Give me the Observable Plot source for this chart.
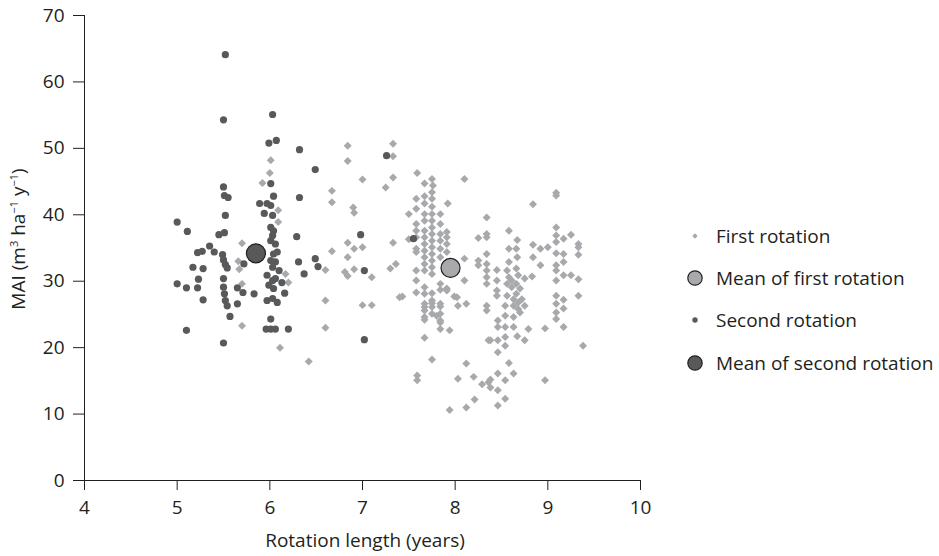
<!DOCTYPE html>
<html>
<head>
<meta charset="utf-8">
<script src="https://cdn.jsdelivr.net/npm/d3@7"></script>
<script src="https://cdn.jsdelivr.net/npm/@observablehq/plot@0.6"></script>
<style>
  html, body { margin: 0; padding: 0; background: #fff; }
  #chart { width: 939px; height: 556px; }
</style>
</head>
<body>
<div id="chart"></div>
<script>
// Rotation length (years) and mean annual increment (MAI) per stand.
const firstX = [
  6.01, 6.00, 5.92, 6.09, 6.09, 5.70, 5.66, 5.67, 5.70, 6.17, 6.20, 5.70, 6.11, 6.42,
  6.84, 6.84, 7.00, 6.67, 6.67, 6.90, 6.91, 7.33, 7.33, 7.33, 7.25, 6.84, 6.91, 7.00, 6.84, 6.67, 7.33,
  6.60, 6.81, 6.84, 6.91, 7.10, 7.30, 7.36, 6.60, 7.00, 7.10, 6.60, 7.40,
  7.50, 7.50, 7.59, 7.67, 7.75, 7.76, 7.75, 8.10, 7.92,
  7.58, 7.58, 7.58, 7.58, 7.58, 7.58, 7.58, 7.58, 7.58, 7.58,
  7.67, 7.67, 7.67, 7.67, 7.67, 7.67, 7.67, 7.67, 7.67, 7.67, 7.67, 7.67, 7.67, 7.67, 7.67, 7.67, 7.67, 7.67, 7.67,
  7.75, 7.75, 7.75, 7.75, 7.75, 7.75, 7.75, 7.75, 7.75, 7.75, 7.75, 7.75, 7.75, 7.75, 7.75, 7.75, 7.75,
  7.84, 7.84, 7.84, 7.84, 7.84, 7.84, 7.84, 7.84, 7.84, 7.84, 7.84, 7.84, 7.84, 7.84,
  7.91, 7.91, 7.91, 7.91, 7.91, 7.91,
  7.94, 7.75, 7.59, 7.59, 8.03, 8.12, 8.20, 8.29, 8.21, 8.12, 7.94, 8.10, 8.10, 8.02, 8.12, 8.03, 7.99, 7.80, 7.43,
  8.34, 8.34, 8.34, 8.25, 8.25, 8.25, 8.34, 8.34, 8.34, 8.34, 8.34, 8.34, 8.34, 8.36, 8.36,
  8.45, 8.45, 8.45, 8.45,
  8.58, 8.67, 8.58, 8.66, 8.67, 8.58, 8.56, 8.58, 8.56, 8.61, 8.56, 8.66, 8.70, 8.54, 8.63, 8.68, 8.68, 8.70,
  8.63, 8.54, 8.46, 8.46, 8.54, 8.63, 8.75, 8.83, 8.79, 8.67, 8.75, 8.38, 8.46, 8.54, 8.54, 8.46, 8.97,
  8.58, 8.46, 8.54, 8.63, 8.38, 8.38, 8.46, 8.54, 8.46, 8.97,
  8.61, 8.66, 8.72, 8.63, 8.68, 8.75, 8.66,
  8.84, 9.09, 9.09, 9.09, 9.09, 9.09, 9.17, 9.25, 9.33, 9.33, 8.84, 8.92, 9.00, 9.09, 9.17, 9.17, 9.33,
  8.84, 8.92, 9.09, 9.09, 9.17, 9.25, 9.33, 9.33, 9.38, 9.09, 9.17, 9.09, 9.17, 9.09, 9.09, 9.17, 9.09
];
const firstMAI = [
  48.2, 46.3, 44.8, 40.7, 38.9, 35.7, 33.0, 31.8, 29.6, 31.1, 29.8, 23.3, 20.0, 17.9,
  50.4, 48.1, 45.3, 43.6, 41.9, 41.1, 40.3, 50.7, 48.8, 45.6, 44.1, 35.8, 34.9, 35.1, 33.6, 34.5, 35.8,
  31.7, 31.4, 30.8, 31.8, 30.6, 31.9, 32.6, 27.1, 26.4, 26.4, 23.0, 27.6,
  40.1, 36.3, 46.3, 44.7, 45.4, 44.4, 43.4, 45.4, 41.7,
  42.4, 40.9, 38.6, 37.6, 36.6, 34.9, 34.4, 31.6, 30.1, 28.3,
  42.8, 41.7, 40.1, 39.1, 37.6, 36.6, 35.6, 34.6, 33.6, 32.6, 31.6, 29.1, 28.1, 26.6, 26.1, 25.6, 24.6, 24.2, 21.5,
  42.4, 41.2, 40.1, 39.1, 38.1, 37.1, 36.1, 35.1, 34.1, 33.1, 32.1, 31.1, 28.2, 27.1, 26.7, 26.1, 25.1,
  40.1, 38.6, 37.1, 36.1, 34.9, 33.6, 29.6, 28.7, 26.6, 26.2, 25.1, 24.1, 23.8, 22.8,
  37.4, 36.6, 35.6, 34.4, 28.9, 28.6,
  22.6, 18.2, 15.8, 15.1, 15.3, 17.6, 15.6, 14.5, 12.2, 11.0, 10.6, 33.4, 30.1, 27.6, 26.6, 26.3, 27.7, 24.8, 27.7,
  39.6, 37.1, 36.6, 36.5, 33.1, 32.4, 34.1, 32.6, 31.6, 30.6, 29.6, 26.3, 25.6, 21.1, 14.8,
  31.7, 30.1, 28.6, 27.8,
  37.6, 36.2, 34.9, 34.9, 33.6, 32.9, 31.6, 30.6, 29.6, 29.1, 27.8, 28.1, 28.9, 26.3, 26.3, 26.8, 25.8, 25.3,
  24.6, 24.8, 24.1, 23.1, 23.1, 23.1, 30.4, 30.7, 22.8, 21.7, 21.1, 21.1, 21.1, 21.6, 20.3, 19.3, 22.9,
  17.7, 16.1, 15.1, 16.1, 15.2, 14.0, 13.6, 12.3, 11.3, 15.1,
  30.1, 29.6, 27.3, 27.3, 30.9, 26.3, 31.9,
  41.6, 43.3, 42.9, 38.1, 36.9, 35.9, 36.4, 37.0, 35.6, 35.1, 35.5, 34.9, 35.1, 34.2, 34.1, 32.9, 34.0,
  33.6, 32.4, 31.6, 30.1, 30.9, 30.9, 30.3, 27.8, 20.3, 27.8, 27.2, 26.6, 25.9, 25.3, 24.3, 23.1, 32.4
];
const secondX = [
  5.52, 5.50, 6.03, 5.99, 6.07, 6.32, 6.49, 5.50, 6.01, 5.51, 5.55, 6.04, 6.32, 5.89, 5.97, 6.01, 5.52, 5.94, 6.03,
  5.00, 5.11, 5.45, 5.51, 5.35, 5.40, 5.22, 5.27, 5.49, 5.50, 5.52, 5.54, 5.17, 5.28, 5.72, 5.23, 5.22, 5.10, 5.00,
  5.50, 5.50, 5.51, 5.52, 5.54, 5.65, 5.71, 5.65, 5.83, 5.28, 5.57, 5.10, 5.50,
  6.01, 6.04, 6.03, 6.01, 6.06, 6.04, 6.08, 6.01, 6.06, 6.03, 6.10, 5.97, 6.03, 6.06, 5.99, 6.04, 5.97, 6.03, 6.08,
  6.01, 5.96, 6.01, 6.06, 6.13, 6.16, 6.29, 6.31, 6.20, 6.37, 6.49, 6.52, 7.26, 6.98, 7.02, 7.02, 7.55
];
const secondMAI = [
  64.1, 54.3, 55.1, 50.8, 51.2, 49.8, 46.8, 44.2, 44.7, 42.9, 42.6, 42.8, 42.6, 41.7, 41.7, 41.4, 39.9, 40.2, 39.9,
  38.9, 37.5, 37.0, 37.3, 35.3, 34.4, 34.3, 34.5, 34.0, 33.2, 32.5, 32.0, 32.1, 31.9, 32.6, 30.3, 29.0, 29.0, 29.6,
  30.4, 29.1, 28.1, 27.1, 26.3, 29.0, 28.3, 26.6, 28.1, 27.2, 24.7, 22.6, 20.7,
  38.1, 37.6, 36.9, 36.1, 35.6, 34.1, 34.4, 33.1, 32.9, 32.1, 31.6, 30.9, 30.1, 30.4, 29.4, 28.9, 27.1, 27.4, 26.8,
  24.3, 22.8, 22.8, 22.8, 29.8, 28.2, 36.7, 32.9, 22.8, 31.1, 33.4, 32.2, 48.9, 37.0, 31.6, 21.2, 36.4
];
// Means of each rotation
const meanLabels = ["Mean of first rotation", "Mean of second rotation"];
const meanX = [7.95, 5.85];
const meanMAI = [32.0, 34.2];

const xTicks = [4, 5, 6, 7, 8, 9, 10];
const yTicks = [0, 10, 20, 30, 40, 50, 60, 70];
const legendLabels = ["First rotation", "Mean of first rotation", "Second rotation", "Mean of second rotation"];

const first = firstX.map((x, i) => ({x, y: firstMAI[i]}));
const second = secondX.map((x, i) => ({x, y: secondMAI[i]}));
const means = meanX.map((x, i) => ({x, y: meanMAI[i], label: meanLabels[i]}));

const ink = "#231f20";
const light = "#a7a9ac";
const dark = "#58595b";
const font = "'Open Sans', sans-serif";
const fs = 19;

const W = 939, H = 556;
const svg = Plot.plot({
  width: W,
  height: H,
  marginLeft: 84,
  marginRight: 299,
  marginTop: 15,
  marginBottom: 76,
  style: {fontFamily: font, fontSize: fs + "px", color: ink, background: "#fff", overflow: "visible"},
  x: {domain: [4, 10]},
  y: {domain: [0, 70]},
  marks: [
    Plot.axisX({ticks: xTicks, tickFormat: d3.format("d"), tickSize: 10, tickPadding: 10, fontSize: fs, label: null, stroke: ink}),
    Plot.axisY({ticks: yTicks, tickFormat: d3.format("d"), tickSize: 11, tickPadding: 9, fontSize: fs, label: null, stroke: ink}),
    Plot.ruleX([4], {stroke: ink}),
    Plot.ruleY([0], {stroke: ink}),
    Plot.dot(first, {x: "x", y: "y", symbol: "diamond2", r: 3.6, fill: light, stroke: null}),
    Plot.dot(second, {x: "x", y: "y", r: 3.6, fill: dark, stroke: null}),
    Plot.dot(means, {x: "x", y: "y", r: 9.5, fill: d => d.label === meanLabels[0] ? light : dark, stroke: ink, strokeWidth: 1.2})
  ]
});
document.getElementById("chart").appendChild(svg);

const s = d3.select(svg);
// Tick labels at the same size as the rest of the text
s.selectAll('g[aria-label$="tick label"]').attr("font-size", fs).selectAll("text").attr("font-size", fs);

// Axis titles
s.append("text")
  .attr("x", 365).attr("y", 547)
  .attr("text-anchor", "middle")
  .attr("fill", ink)
  .style("font-family", font).style("font-size", fs + "px")
  .text("Rotation length (years)");

const yt = s.append("text")
  .attr("transform", "translate(25,239) rotate(-90)")
  .attr("text-anchor", "middle")
  .attr("fill", ink)
  .style("font-family", font).style("font-size", fs + "px");
yt.append("tspan").text("MAI (m");
yt.append("tspan").attr("dy", -7).style("font-size", "11px").text("3");
yt.append("tspan").attr("dy", 7).text(" ha");
yt.append("tspan").attr("dy", -7).style("font-size", "11px").text("\u22121");
yt.append("tspan").attr("dy", 7).text(" y");
yt.append("tspan").attr("dy", -7).style("font-size", "11px").text("\u22121");
yt.append("tspan").attr("dy", 7).text(")");

// Legend
const lg = s.append("g").attr("transform", "translate(695,0)");
const rows = [
  {y: 236, kind: "diamond"},
  {y: 278, kind: "meanFirst"},
  {y: 320, kind: "dot"},
  {y: 363, kind: "meanSecond"}
];
rows.forEach((r, i) => {
  if (r.kind === "diamond") {
    lg.append("path").attr("transform", `translate(0,${r.y})`)
      .attr("d", d3.symbol(d3.symbolDiamond2, Math.PI * 2.4 * 2.4)()).attr("fill", light);
  } else if (r.kind === "dot") {
    lg.append("circle").attr("cy", r.y).attr("r", 2.7).attr("fill", dark);
  } else {
    lg.append("circle").attr("cy", r.y).attr("r", 7.2)
      .attr("fill", r.kind === "meanFirst" ? light : dark)
      .attr("stroke", ink).attr("stroke-width", 1.2);
  }
  lg.append("text").attr("x", 21).attr("y", r.y).attr("dy", "0.35em")
    .attr("text-anchor", "start")
    .attr("fill", ink)
    .style("font-family", font).style("font-size", fs + "px")
    .text(legendLabels[i]);
});
</script>
</body>
</html>
